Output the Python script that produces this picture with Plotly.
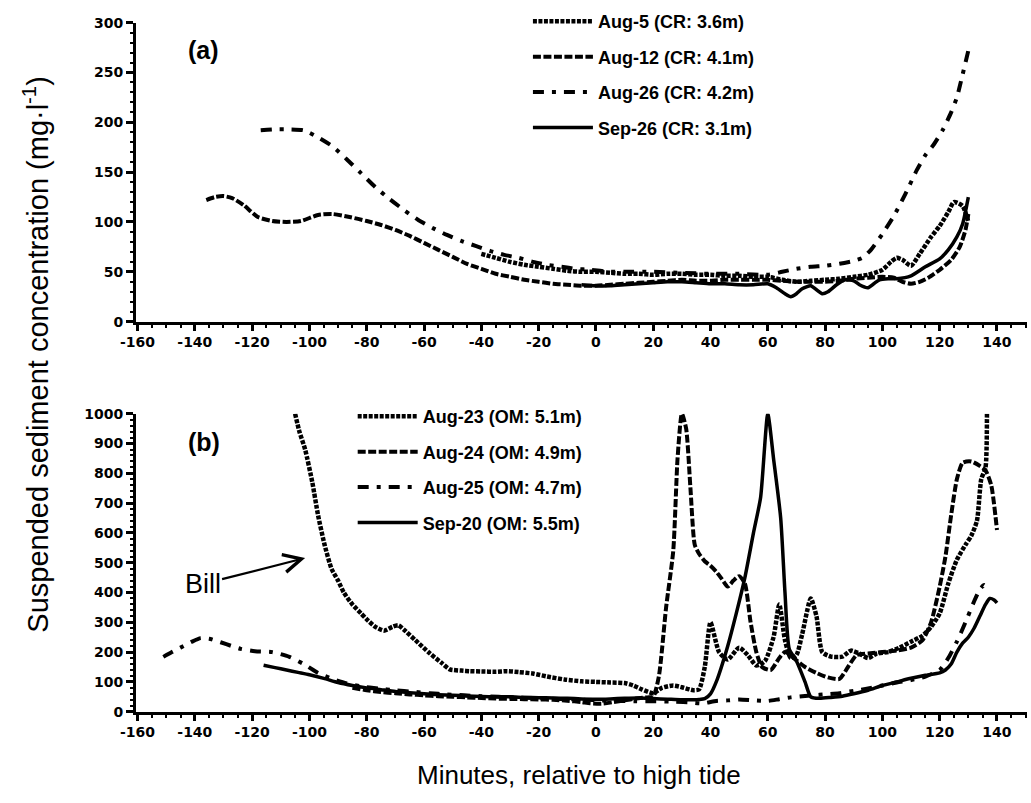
import plotly.graph_objects as go

# ---------------- Panel (a) data ----------------
aug5_x = [-40, -35, -30, -25, -20, -15, -10, -5, 0, 5, 10, 15, 20, 25, 30, 35, 40, 45, 50, 55, 60, 65, 70, 75,
          80, 85, 90, 95, 100, 103, 105, 107, 110, 113, 117, 120, 123, 125, 128, 130]
aug5_y = [68, 64, 60, 57, 55, 53, 51, 50, 50, 49, 48, 48, 47, 48, 48, 47, 47, 46, 46, 45, 45, 42, 40, 41,
          42, 43, 45, 47, 52, 60, 64, 62, 56, 68, 85, 96, 110, 120, 116, 100]

aug12_x = [-136, -133, -130, -127, -123, -118, -113, -108, -103, -97, -92, -86, -80, -75, -70, -65, -60, -55,
           -50, -45, -40, -35, -30, -25, -20, -15, -10, -5, 0, 5, 10, 15, 20, 25, 30, 35, 40, 45, 50, 55, 60,
           65, 70, 75, 80, 85, 90, 95, 100, 104, 107, 110, 113, 116, 120, 124, 127, 129, 130]
aug12_y = [122, 125, 126, 124, 117, 105, 101, 100, 101, 107, 108, 105, 101, 97, 92, 86, 79, 72,
           65, 58, 53, 48, 45, 42, 40, 38, 37, 36, 36, 37, 38, 39, 40, 41, 42, 41, 41, 42, 42, 42, 42,
           41, 40, 40, 40, 41, 43, 44, 45, 44, 40, 38, 40, 44, 52, 62, 75, 92, 108]

aug26_x = [-117, -112, -107, -102, -97, -92, -87, -82, -77, -72, -67, -62, -57, -52, -47, -42, -37, -32, -27,
           -22, -17, -12, -7, -2, 5, 10, 20, 30, 40, 50, 60, 65, 70, 75, 80, 85, 90, 93, 96, 100, 104, 108,
           112, 115, 118, 121, 124, 126, 128, 130]
aug26_y = [192, 193, 193, 192, 185, 176, 163, 149, 135, 123, 112, 102, 94, 87, 81, 76, 71, 67, 64,
           60, 57, 55, 53, 52, 50, 50, 50, 49, 48, 48, 47, 50, 53, 55, 56, 58, 61, 64, 72, 88, 106, 128,
           152, 167, 178, 192, 210, 225, 248, 272]

sep26_x = [-5, 0, 5, 10, 15, 20, 25, 30, 35, 40, 45, 50, 55, 60, 63, 66, 68, 70, 72, 75, 77, 79, 81, 84, 87,
           90, 92, 95, 97, 99, 102, 105, 110, 115, 120, 123, 126, 128, 130]
sep26_y = [37, 36, 36, 37, 38, 39, 40, 40, 39, 38, 38, 37, 37, 38, 34, 28, 25, 28, 33, 36, 32, 28, 30, 37, 42,
           41, 37, 34, 38, 42, 43, 43, 46, 55, 63, 72, 85, 98, 125]

# ---------------- Panel (b) data ----------------
aug23_x = [-105, -103.5, -101.5, -99, -97, -94.7, -92.3, -90, -88, -85, -82, -80, -77, -74, -71, -69, -67,
           -63, -58, -54, -51, -47, -44, -40, -35, -31, -27, -22, -17, -11, -5, 0, 5, 10, 13, 16, 20, 23,
           27, 30, 34, 36, 38, 40, 43, 46, 50, 53, 56, 59, 62, 64, 66, 68, 70, 72, 75, 77, 79, 82, 86, 89,
           92, 95, 98, 102, 106, 110, 114, 117, 120, 123, 126, 129, 131, 133, 134.5, 136, 136.5]
aug23_y = [1000, 940, 880, 770, 660, 560, 480, 440, 400, 360, 330, 310, 285, 272, 285, 290, 275,
           240, 196, 165, 142, 138, 136, 135, 134, 136, 133, 128, 118, 108, 102, 100, 98, 96, 88, 75, 62, 80,
           88, 82, 72, 75, 150, 300, 200, 175, 215, 190, 155, 170, 250, 360, 240, 180, 190, 260, 380, 320, 200,
           185, 185, 205, 195, 180, 195, 200, 215, 235, 255, 285, 330, 430, 510, 560, 590, 640, 780, 820, 1000]

aug24_x = [-85, -80, -75, -70, -65, -60, -55, -50, -45, -40, -35, -30, -25, -20, -15, -10, -5, -2, 2, 6, 10,
           14, 18, 20, 22, 24.5, 27, 28.5, 30, 31.5, 33, 34.5, 36, 38, 40, 42, 44, 46, 48, 50, 52, 54, 56,
           58, 61, 64, 66, 69, 73, 77, 81, 85, 88, 91, 95, 100, 105, 110, 114, 117, 120, 122, 124, 126,
           128, 131, 134, 136, 138, 140]
aug24_y = [80, 72, 66, 62, 58, 55, 52, 50, 48, 46, 44, 43, 42, 41, 40, 37, 32, 28, 27, 32, 38,
           44, 48, 50, 120, 350, 540, 850, 1000, 950, 750, 560, 530, 505, 490, 470, 445, 420, 440, 455, 430,
           300, 200, 150, 140, 180, 200, 180, 150, 130, 115, 110, 150, 190, 195, 200, 205, 215, 240, 300,
           420, 520, 660, 780, 835, 840, 825, 810, 760, 610]

aug25_x = [-151, -148, -145, -141, -138, -135, -131, -127, -124, -119, -113, -107, -102, -97, -92, -87, -82,
           -76, -70, -64, -58, -52, -46, -40, -34, -28, -22, -16, -10, -4, 2, 8, 14, 20, 26, 32, 37, 42, 46,
           50, 55, 60, 64, 68, 72, 76, 80, 85, 90, 95, 100, 105, 110, 115, 120, 123, 126, 129, 132, 134,
           135.5, 136.5]
aug25_y = [184, 200, 215, 235, 247, 245, 233, 220, 211, 203, 200, 184, 160, 130, 110, 95, 85,
           78, 72, 67, 62, 58, 55, 52, 50, 48, 46, 44, 42, 40, 38, 36, 35, 35, 34, 32, 28, 36, 38,
           41, 38, 36, 42, 48, 52, 55, 58, 62, 70, 78, 88, 98, 106, 118, 140, 180, 235, 300, 370, 410,
           425, 405]

sep20_x = [-116, -112, -108, -104, -100, -95, -90, -85, -80, -75, -70, -65, -60, -55, -50, -45, -40, -35,
           -30, -25, -20, -15, -10, -5, 0, 5, 10, 15, 20, 25, 30, 34, 36, 38, 40, 42, 46, 49, 52, 55, 57.5,
           60, 62, 64.5, 66, 67.5, 70, 73, 75, 78, 82, 86, 90, 95, 100, 105, 110, 115, 120, 122, 124, 126,
           128, 130, 132, 134, 136, 137.5, 139, 140]
sep20_y = [156, 148, 140, 132, 124, 112, 98, 88, 80, 74, 68, 64, 60, 57, 55, 53, 51, 50,
           50, 48, 47, 46, 45, 43, 42, 43, 45, 46, 44, 42, 40, 40, 41, 44, 60, 100, 220, 330, 450, 600, 720,
           1000, 850, 650, 400, 210, 170, 100, 50, 45, 48, 52, 60, 72, 88, 100, 112, 122, 130, 140, 160, 200,
           230, 250, 280, 320, 360, 380, 375, 365]

names_a = ["Aug-5 (CR: 3.6m)", "Aug-12 (CR: 4.1m)", "Aug-26 (CR: 4.2m)", "Sep-26 (CR: 3.1m)"]
names_b = ["Aug-23 (OM: 5.1m)", "Aug-24 (OM: 4.9m)", "Aug-25 (OM: 4.7m)", "Sep-20 (OM: 5.5m)"]

x_ticks = list(range(-160, 141, 20))

# line styles: dotted, dashed, dash-dot, solid
styles = [
    dict(color="black", width=4.5, dash="4px,1.5px"),
    dict(color="black", width=4, dash="8px,2.5px"),
    dict(color="black", width=4, dash="11px,8px,4px,8px"),
    dict(color="black", width=3.5, dash="solid"),
]

fig = go.Figure()

series_a = [(aug5_x, aug5_y), (aug12_x, aug12_y), (aug26_x, aug26_y), (sep26_x, sep26_y)]
series_b = [(aug23_x, aug23_y), (aug24_x, aug24_y), (aug25_x, aug25_y), (sep20_x, sep20_y)]

for i, ((xs, ys), nm) in enumerate(zip(series_a, names_a)):
    fig.add_trace(go.Scatter(x=xs, y=ys, mode="lines", name=nm,
                             line=dict(shape="spline", smoothing=0.6, **styles[i]),
                             xaxis="x", yaxis="y", legend="legend", legendgroup="a%d" % i))
for i, ((xs, ys), nm) in enumerate(zip(series_b, names_b)):
    fig.add_trace(go.Scatter(x=xs, y=ys, mode="lines", name=nm,
                             line=dict(shape="spline", smoothing=0.6, **styles[i]),
                             xaxis="x2", yaxis="y2", legend="legend2", legendgroup="b%d" % i))

tickfont = dict(family="DejaVu Sans", size=14, color="black", weight="bold")
xdom = [122 / 1031, 1027 / 1031]


def xaxis_common(anchor):
    return dict(domain=xdom, anchor=anchor, range=[-160.5, 150.5], tickmode="array", tickvals=x_ticks,
                ticktext=[str(v) for v in x_ticks], showline=True, linecolor="black", linewidth=3,
                ticks="outside", ticklen=6, tickwidth=3, tickcolor="black", showgrid=False, zeroline=False,
                tickfont=tickfont,
                minor=dict(dtick=5, ticks="outside", ticklen=3, tickwidth=2, tickcolor="black"))


legend_font = dict(family="Liberation Sans", size=18, color="black", weight="bold")

fig.update_layout(
    width=1031, height=803,
    margin=dict(l=0, r=0, t=0, b=0),
    paper_bgcolor="white", plot_bgcolor="white",
    font=dict(family="Liberation Sans", color="black"),
    xaxis=xaxis_common("y"),
    xaxis2=xaxis_common("y2"),
    yaxis=dict(domain=[1 - 320 / 803, 1 - 15 / 803], anchor="x", range=[0, 300], dtick=50,
               showline=True, linecolor="black", linewidth=3, ticks="outside", ticklen=7, tickwidth=3,
               tickcolor="black", showgrid=False, zeroline=False, tickfont=tickfont,
               minor=dict(dtick=10, ticks="outside", ticklen=3, tickwidth=2, tickcolor="black")),
    yaxis2=dict(domain=[1 - 718 / 803, 1 - 414 / 803], anchor="x2", range=[0, 1000], dtick=100,
                showline=True, linecolor="black", linewidth=3, ticks="outside", ticklen=7, tickwidth=3,
                tickcolor="black", showgrid=False, zeroline=False, tickfont=tickfont,
                minor=dict(dtick=20, ticks="outside", ticklen=3, tickwidth=2, tickcolor="black")),
    legend=dict(x=520 / 1031, y=1 + 5 / 803, xanchor="left", yanchor="top", bgcolor="rgba(0,0,0,0)",
                font=legend_font, tracegroupgap=9, traceorder="grouped", itemwidth=60),
    legend2=dict(x=342 / 1031, y=1 - 398 / 803, xanchor="left", yanchor="top", bgcolor="rgba(0,0,0,0)",
                 font=legend_font, tracegroupgap=9, traceorder="grouped", itemwidth=60),
    showlegend=True,
)

fig.add_annotation(text="(a)", xref="paper", yref="paper", x=190 / 1031, y=1 - 43 / 803,
                   xanchor="center", yanchor="middle", showarrow=False,
                   font=dict(family="Liberation Sans", size=25, weight="bold"))
fig.add_annotation(text="(b)", xref="paper", yref="paper", x=191 / 1031, y=1 - 443 / 803,
                   xanchor="center", yanchor="middle", showarrow=False,
                   font=dict(family="Liberation Sans", size=25, weight="bold"))
fig.add_annotation(text="Bill", xref="x2", yref="y2", x=-101.5, y=516, axref="x2", ayref="y2",
                   ax=-137.3, ay=428, showarrow=True, arrowhead=5, arrowsize=1.6, arrowwidth=2.2,
                   arrowcolor="black", font=dict(family="Liberation Sans", size=27), standoff=0)
fig.add_annotation(text="Suspended sediment concentration (mg·l<sup>-1</sup>)", xref="paper", yref="paper",
                   x=20 / 1031, y=1 - 354 / 803, xanchor="center", yanchor="middle", textangle=-90,
                   showarrow=False, font=dict(family="Liberation Sans", size=29))
fig.add_annotation(text="Minutes, relative to high tide", xref="paper", yref="paper",
                   x=572 / 1031, y=1 - 783 / 803, xanchor="center", yanchor="middle", showarrow=False,
                   font=dict(family="Liberation Sans", size=26))

fig.write_html("out.html")
